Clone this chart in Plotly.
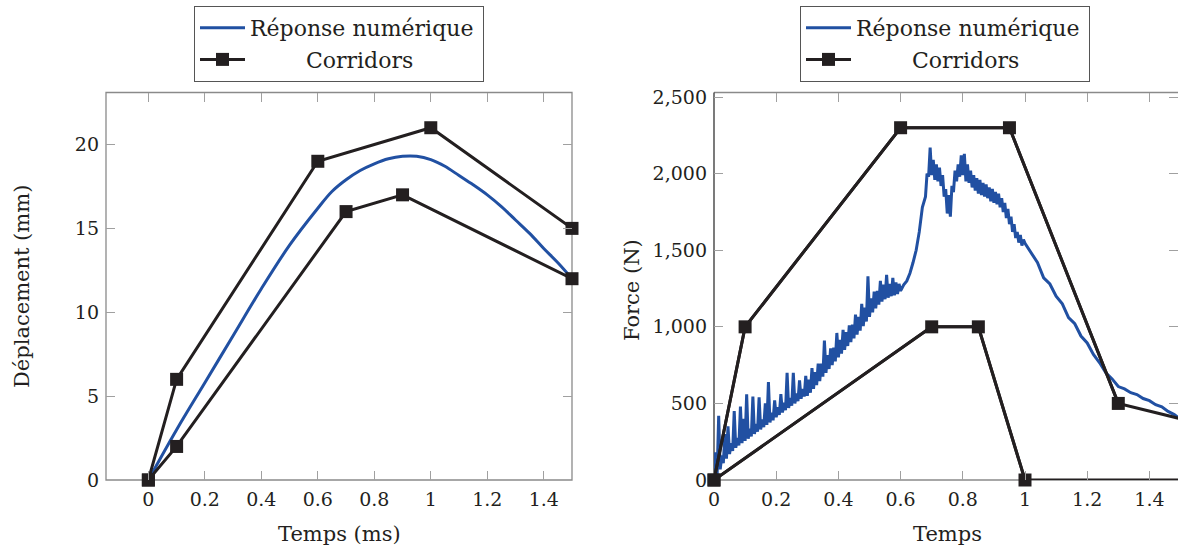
import plotly.graph_objects as go

# ---------------- Left chart: displacement ----------------
t_disp = [0.0, 0.1, 0.2, 0.3, 0.4, 0.5, 0.6, 0.65, 0.7, 0.75, 0.8, 0.85, 0.9, 0.95,
          1.0, 1.05, 1.1, 1.15, 1.2, 1.25, 1.3, 1.35, 1.4, 1.45, 1.5]
disp_num = [0.0, 3.0, 5.8, 8.6, 11.4, 14.0, 16.2, 17.2, 17.9, 18.45, 18.85, 19.15, 19.3, 19.3,
            19.1, 18.7, 18.15, 17.6, 17.0, 16.3, 15.5, 14.7, 13.8, 12.95, 12.0]
corr_up_t = [0.0, 0.1, 0.6, 1.0, 1.5]
corr_up_d = [0, 6, 19, 21, 15]
corr_lo_t = [0.0, 0.1, 0.7, 0.9, 1.5]
corr_lo_d = [0, 2, 16, 17, 12]

# ---------------- Right chart: force ----------------
t_force = [0.000, 0.005, 0.010, 0.015, 0.020, 0.025, 0.030, 0.035, 0.040, 0.045,
           0.050, 0.055, 0.060, 0.065, 0.070, 0.075, 0.080, 0.085, 0.090, 0.095,
           0.100, 0.105, 0.110, 0.115, 0.120, 0.125, 0.130, 0.135, 0.140, 0.145,
           0.150, 0.155, 0.160, 0.165, 0.170, 0.175, 0.180, 0.185, 0.190, 0.195,
           0.200, 0.205, 0.210, 0.215, 0.220, 0.225, 0.230, 0.235, 0.240, 0.245,
           0.250, 0.255, 0.260, 0.265, 0.270, 0.275, 0.280, 0.285, 0.290, 0.295,
           0.300, 0.305, 0.310, 0.315, 0.320, 0.325, 0.330, 0.335, 0.340, 0.345,
           0.350, 0.355, 0.360, 0.365, 0.370, 0.375, 0.380, 0.385, 0.390, 0.395,
           0.400, 0.405, 0.410, 0.415, 0.420, 0.425, 0.430, 0.435, 0.440, 0.445,
           0.450, 0.455, 0.460, 0.465, 0.470, 0.475, 0.480, 0.485, 0.490, 0.495,
           0.500, 0.505, 0.510, 0.515, 0.520, 0.525, 0.530, 0.535, 0.540, 0.545,
           0.550, 0.555, 0.560, 0.565, 0.570, 0.575, 0.580, 0.585, 0.590, 0.595,
           0.600, 0.610, 0.620, 0.630, 0.640, 0.650, 0.660, 0.670,
           0.680, 0.685, 0.690, 0.695, 0.700, 0.705, 0.710, 0.715, 0.720, 0.725,
           0.730, 0.735, 0.740, 0.745, 0.750, 0.755, 0.760, 0.765, 0.770, 0.775,
           0.780, 0.785, 0.790, 0.795, 0.800, 0.805, 0.810, 0.815, 0.820, 0.825,
           0.830, 0.835, 0.840, 0.845, 0.850, 0.855, 0.860, 0.865, 0.870, 0.875,
           0.880, 0.885, 0.890, 0.895, 0.900, 0.905, 0.910, 0.915, 0.920, 0.925,
           0.930, 0.935, 0.940, 0.945, 0.950, 0.955, 0.960, 0.965, 0.970, 0.975,
           0.980, 0.985, 0.990, 0.995,
           1.00, 1.02, 1.04, 1.06, 1.08, 1.10, 1.12, 1.14, 1.16, 1.18,
           1.20, 1.22, 1.24, 1.26, 1.28, 1.30, 1.32, 1.34, 1.36, 1.38,
           1.40, 1.42, 1.44, 1.46, 1.48, 1.50]
force_num = [0, 180, 30, 420, 70, 160, 110, 300, 140, 350,
             170, 240, 190, 450, 210, 275, 225, 480, 240, 400,
             255, 560, 270, 335, 285, 545, 300, 365, 315, 540,
             330, 395, 345, 500, 360, 640, 375, 440, 390, 520,
             410, 475, 425, 560, 440, 505, 455, 700, 470, 535,
             485, 700, 500, 565, 515, 650, 530, 595, 545, 680,
             550, 655, 570, 730, 595, 705, 620, 760, 645, 760,
             675, 910, 700, 815, 725, 860, 750, 865, 775, 960,
             800, 915, 825, 980, 850, 965, 875, 1010, 900, 1015,
             925, 1080, 950, 1065, 975, 1150, 1005, 1125, 1035, 1330,
             1065, 1185, 1095, 1230, 1120, 1235, 1145, 1300, 1165, 1275,
             1180, 1340, 1190, 1280, 1200, 1320, 1205, 1290, 1215, 1280,
             1235, 1275, 1300, 1350, 1420, 1500, 1620, 1780,
             1850, 2000, 1980, 2170, 1990, 2090, 1960, 2060, 1950, 2040,
             1920, 1990, 1850, 1900, 1740, 1860, 1720, 1920, 1880, 2020,
             1950, 2060, 1980, 2120, 1990, 2130, 1950, 2060, 1940, 2020,
             1910, 1990, 1890, 1970, 1870, 1960, 1860, 1940, 1850, 1930,
             1840, 1910, 1820, 1900, 1810, 1880, 1800, 1870, 1780, 1840,
             1750, 1810, 1710, 1770, 1670, 1720, 1620, 1670, 1580, 1620,
             1550, 1600, 1530, 1570,
             1545, 1480, 1420, 1320, 1280, 1200, 1150, 1060, 1020, 940,
             895, 820, 765, 700, 660, 610, 595, 570, 558, 532,
             518, 492, 478, 448, 427, 398]
corr_up_tf = [0.0, 0.1, 0.6, 0.95, 1.3, 1.5]
corr_up_f = [0, 1000, 2300, 2300, 500, 400]
corr_lo_tf = [0.0, 0.7, 0.85, 1.0, 1.5]
corr_lo_f = [0, 1000, 1000, 0, 0]

x_ticks = [0, 0.2, 0.4, 0.6, 0.8, 1.0, 1.2, 1.4]
x_ticktext = ["0", "0.2", "0.4", "0.6", "0.8", "1", "1.2", "1.4"]
disp_ticks = [0, 5, 10, 15, 20]
force_ticks = [0, 500, 1000, 1500, 2000, 2500]

BLUE = "#2150a2"
BLACK = "#231f20"
GRAY = "#8a8a8a"
FONT = "DejaVu Serif"
NB = "\u00a0" * 8
LBL_NUM = "Réponse numérique\u2009"

W, H = 1178, 550
L1, R1 = 106, 572
L2, R2 = 714, 1178
TOP, BOT = 92.5, 480

fig = go.Figure()

# left chart
fig.add_trace(go.Scatter(x=t_disp, y=disp_num, mode="lines", name=LBL_NUM,
                         line=dict(color=BLUE, width=3, shape="spline"),
                         xaxis="x", yaxis="y", legend="legend"))
fig.add_trace(go.Scatter(x=corr_up_t, y=corr_up_d, mode="lines+markers", name=NB + "Corridors",
                         line=dict(color=BLACK, width=3),
                         marker=dict(symbol="square", size=13, color=BLACK),
                         cliponaxis=False, xaxis="x", yaxis="y", legend="legend"))
fig.add_trace(go.Scatter(x=corr_lo_t, y=corr_lo_d, mode="lines+markers", name="Corridors",
                         line=dict(color=BLACK, width=3),
                         marker=dict(symbol="square", size=13, color=BLACK),
                         cliponaxis=False, showlegend=False, xaxis="x", yaxis="y"))

# right chart
fig.add_trace(go.Scatter(x=t_force, y=force_num, mode="lines", name=LBL_NUM,
                         line=dict(color=BLUE, width=3),
                         xaxis="x2", yaxis="y2", legend="legend2"))
fig.add_trace(go.Scatter(x=corr_up_tf, y=corr_up_f, mode="lines", name="Corridors",
                         line=dict(color=BLACK, width=3), showlegend=False,
                         xaxis="x2", yaxis="y2"))
fig.add_trace(go.Scatter(x=corr_lo_tf, y=corr_lo_f, mode="lines", name="Corridors",
                         line=dict(color=BLACK, width=3), showlegend=False,
                         xaxis="x2", yaxis="y2"))
fig.add_trace(go.Scatter(x=corr_up_tf[:-1], y=corr_up_f[:-1], mode="lines+markers", name=NB + "Corridors",
                         line=dict(color=BLACK, width=3),
                         marker=dict(symbol="square", size=13, color=BLACK),
                         cliponaxis=False, xaxis="x2", yaxis="y2", legend="legend2"))
fig.add_trace(go.Scatter(x=corr_lo_tf[:-1], y=corr_lo_f[:-1], mode="lines+markers", name="Corridors",
                         line=dict(color=BLACK, width=3),
                         marker=dict(symbol="square", size=13, color=BLACK),
                         cliponaxis=False, showlegend=False, xaxis="x2", yaxis="y2"))

ydom = [1 - BOT / H, 1 - TOP / H]
unit2 = 311.0
common = dict(showgrid=False, zeroline=False, showline=False, ticks="inside", ticklen=9,
              tickwidth=1, tickcolor="#a0a0a0", mirror="ticks", automargin=False,
              tickfont=dict(family=FONT, size=19, color="#231f20"), ticklabelstandoff=6)

legend_common = dict(y=1 - 6 / H, xanchor="left", yanchor="top",
                     bordercolor="#555555", borderwidth=1, bgcolor="white",
                     font=dict(family=FONT, size=22, color="#231f20"), itemwidth=45,
                     traceorder="normal")

fig.update_layout(
    template="none",
    width=W, height=H,
    margin=dict(l=0, r=0, t=0, b=0, pad=0),
    paper_bgcolor="white", plot_bgcolor="white",
    showlegend=True,
    xaxis=dict(domain=[L1 / W, R1 / W], range=[-0.15, 1.5], anchor="y",
               tickvals=x_ticks, ticktext=x_ticktext, **common),
    yaxis=dict(domain=ydom, range=[0, 23.1], anchor="x", tickvals=disp_ticks, **common),
    xaxis2=dict(domain=[L2 / W, R2 / W], range=[0, (R2 - L2) / unit2], anchor="y2",
                tickvals=x_ticks, ticktext=x_ticktext, **common),
    yaxis2=dict(domain=ydom, range=[0, 2530], anchor="x2", tickvals=force_ticks,
                tickformat=",d", **common),
    legend=dict(x=194 / W, **legend_common),
    legend2=dict(x=800 / W, **legend_common),
)

# frames
fig.add_shape(type="rect", xref="x domain", yref="y domain", x0=0, x1=1, y0=0, y1=1,
              line=dict(color=GRAY, width=1.3), layer="below")
fig.add_shape(type="line", xref="x2 domain", yref="y2 domain", x0=0, x1=1, y0=1, y1=1,
              line=dict(color=GRAY, width=1.3), layer="below")
fig.add_shape(type="line", xref="x2 domain", yref="y2 domain", x0=0, x1=1, y0=0, y1=0,
              line=dict(color=GRAY, width=1.3), layer="below")
fig.add_shape(type="line", xref="x2 domain", yref="y2 domain", x0=0, x1=0, y0=0, y1=1,
              line=dict(color="#333333", width=1.3), layer="below")

tfont = dict(family=FONT, size=21, color="#231f20")
fig.add_annotation(text="Déplacement (mm)", x=22 / W, y=1 - 287 / H, xref="paper", yref="paper",
                   textangle=-90, showarrow=False, font=tfont, xanchor="center", yanchor="middle")
fig.add_annotation(text="Temps (ms)", x=339 / W, y=1 - 534 / H, xref="paper", yref="paper",
                   showarrow=False, font=tfont, xanchor="center", yanchor="middle")
fig.add_annotation(text="Force (N)", x=632 / W, y=1 - 290 / H, xref="paper", yref="paper",
                   textangle=-90, showarrow=False, font=tfont, xanchor="center", yanchor="middle")
fig.add_annotation(text="Temps", x=947 / W, y=1 - 534 / H, xref="paper", yref="paper",
                   showarrow=False, font=tfont, xanchor="center", yanchor="middle")

fig.write_html("out.html", config={"displayModeBar": False},
               post_script="document.body.style.margin='0';")
